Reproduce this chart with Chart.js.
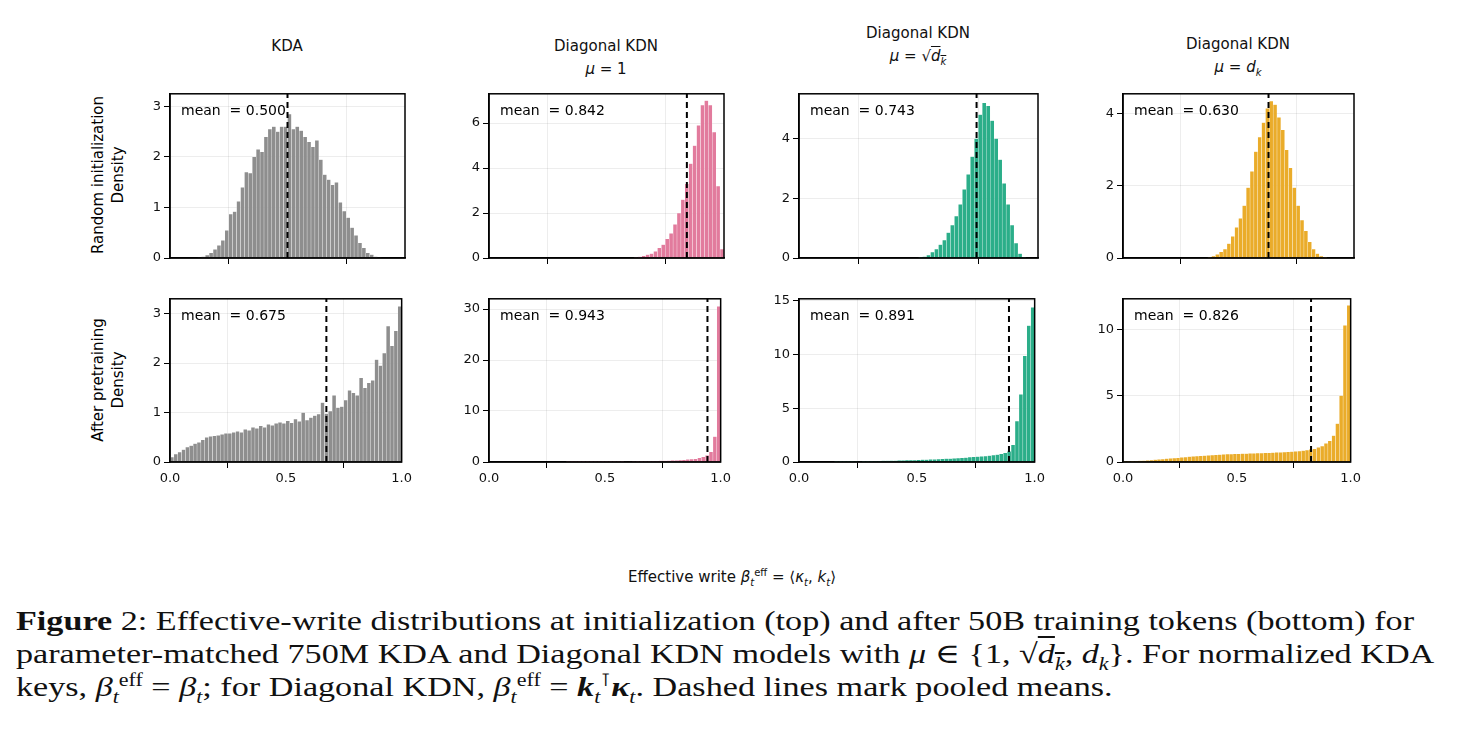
<!DOCTYPE html>
<html>
<head>
<meta charset="utf-8">
<script src="https://cdn.jsdelivr.net/npm/chart.js@4/dist/chart.umd.min.js"></script>
<style>
	body { margin: 0; width: 1464px; height: 750px; background: #fff; position: relative; font-family: "DejaVu Sans", sans-serif; overflow: hidden; }
	.c { position: absolute; }
	.t { position: absolute; text-align: center; font-size: 15px; color: #111; line-height: 23px; transform: translateX(-50%); white-space: nowrap; }
	.r { position: absolute; font-size: 15px; line-height: 20px; text-align: center; transform: translate(-50%, -50%) rotate(-90deg); white-space: nowrap; }
	.cap { position: absolute; left: 16px; top: 604px; font-family: "Liberation Serif", "DejaVu Serif", serif; font-size: 28px; line-height: 33px; color: #111; white-space: nowrap; transform: scaleX(1.22); transform-origin: 0 0; }
	.cap sub, .cap sup { line-height: 0; font-size: 18px; }
	i { font-style: italic; }
</style>
</head>
<body>
<div class="t" style="left:287px;top:35px">KDA</div>
<div class="t" style="left:606px;top:35px">Diagonal KDN<br><i>μ</i> = 1</div>
<div class="t" style="left:918px;top:22px">Diagonal KDN<br><i>μ</i> = √<span style="text-decoration:overline"><i>d<sub style="font-size:10px">k</sub></i></span></div>
<div class="t" style="left:1238px;top:33px">Diagonal KDN<br><i>μ</i> = <i>d<sub style="font-size:10px">k</sub></i></div>
<div class="r" style="left:108px;top:175px">Random initialization<br>Density</div>
<div class="r" style="left:108px;top:380px">After pretraining<br>Density</div>
<div class="t" style="left:732px;top:561px">Effective write <i>β</i><sub style="font-size:10px"><i>t</i></sub><sup style="font-size:10px">eff</sup> = ⟨<i>κ<sub style="font-size:10px">t</sub></i>, <i>k<sub style="font-size:10px">t</sub></i>⟩</div>
<div class="cap"><b>Figure</b> 2: Effective-write distributions at initialization (top) and after 50B training tokens (bottom) for<br>parameter-matched 750M KDA and Diagonal KDN models with <i>μ</i> ∈ {1, √<span style="text-decoration:overline"><i>d<sub>k</sub></i></span>, <i>d<sub>k</sub></i>}. For normalized KDA<br>keys, <i>β</i><sub><i>t</i></sub><sup>eff</sup> = <i>β<sub>t</sub></i>; for Diagonal KDN, <i>β</i><sub><i>t</i></sub><sup>eff</sup> = <b><i>k</i></b><sub><i>t</i></sub><sup>⊺</sup><b><i>κ</i></b><sub><i>t</i></sub>. Dashed lines mark pooled means.</div>

<script>
const binCount = 60;
const binCenters = Array.from({ length: binCount }, (_, i) => (i + 0.5) / binCount);
const xTicks = [0, 0.5, 1];

// density per bin (60 bins over [0, 1])
const kdaInit = [0,0,0,0,0,0,0,0.01,0.03,0.06,0.1,0.17,0.25,0.35,0.55,0.87,0.92,1.12,1.4,1.7,1.68,2.0,2.15,2.1,2.4,2.55,2.6,2.5,2.6,2.6,2.85,2.55,2.6,2.52,2.4,2.3,2.2,2.33,1.95,1.65,1.55,1.45,1.5,1.1,0.93,0.8,0.6,0.45,0.3,0.2,0.1,0.07,0.03,0.01,0,0,0,0,0,0];
const kdaTrained = [0.1,0.16,0.2,0.25,0.3,0.33,0.37,0.4,0.45,0.5,0.52,0.53,0.54,0.56,0.58,0.58,0.6,0.62,0.6,0.66,0.64,0.7,0.68,0.73,0.7,0.76,0.74,0.78,0.8,0.78,0.83,0.79,0.87,0.82,1.0,0.85,0.9,0.94,0.97,1.2,0.98,1.03,1.35,1.1,1.12,1.25,1.45,1.4,1.35,1.7,1.5,1.6,1.65,2.07,1.95,2.2,2.75,2.35,2.65,3.15];
const mu1Init = [0,0,0,0,0,0,0,0,0,0,0,0,0,0,0,0,0,0,0,0,0,0,0,0,0,0,0,0,0,0,0,0,0,0,0,0,0,0.02,0.05,0.1,0.15,0.2,0.3,0.45,0.6,0.85,1.1,1.5,2.0,2.6,3.3,4.2,5.0,5.9,6.8,7.0,6.8,5.6,3.2,0.4];
const mu1Trained = [0,0,0,0,0,0,0,0,0,0,0,0,0,0,0,0,0,0,0,0,0.01,0.01,0.01,0.02,0.02,0.02,0.03,0.03,0.04,0.04,0.05,0.05,0.06,0.07,0.08,0.09,0.1,0.11,0.12,0.13,0.14,0.16,0.18,0.2,0.22,0.25,0.28,0.31,0.35,0.4,0.45,0.5,0.55,0.6,0.8,1.0,1.3,2.0,5.0,30.5];
const sqrtInit = [0,0,0,0,0,0,0,0,0,0,0,0,0,0,0,0,0,0,0,0,0,0,0,0,0,0,0,0,0,0,0.02,0.05,0.1,0.2,0.3,0.45,0.6,0.85,1.1,1.4,1.8,2.3,2.8,3.4,4.0,4.8,5.2,5.1,4.6,4.0,3.3,2.5,1.8,1.1,0.5,0.15,0.02,0,0,0];
const sqrtTrained = [0,0,0,0,0,0,0,0,0,0.01,0.01,0.02,0.02,0.03,0.04,0.05,0.06,0.07,0.08,0.09,0.1,0.11,0.12,0.13,0.14,0.15,0.16,0.17,0.18,0.19,0.2,0.22,0.23,0.25,0.26,0.28,0.3,0.31,0.33,0.35,0.37,0.39,0.42,0.45,0.48,0.5,0.53,0.56,0.6,0.65,0.7,0.75,0.85,1.0,1.6,3.8,6.3,9.9,12.7,14.4];
const dkInit = [0,0,0,0,0,0,0,0,0,0,0,0,0,0,0,0,0,0,0,0,0,0,0.02,0.05,0.1,0.17,0.25,0.4,0.6,0.85,1.1,1.45,1.95,2.4,2.95,3.35,3.75,4.15,4.35,4.25,3.9,3.55,3.0,2.5,1.95,1.45,1.05,0.75,0.45,0.25,0.12,0.05,0.02,0,0,0,0,0,0,0];
const dkTrained = [0.02,0.03,0.05,0.07,0.09,0.11,0.13,0.15,0.18,0.2,0.22,0.25,0.27,0.3,0.32,0.35,0.37,0.4,0.42,0.44,0.46,0.48,0.5,0.52,0.54,0.56,0.57,0.59,0.6,0.61,0.62,0.63,0.64,0.65,0.66,0.67,0.68,0.69,0.7,0.71,0.72,0.73,0.74,0.76,0.78,0.8,0.83,0.86,0.9,0.95,1.0,1.1,1.2,1.4,1.6,2.0,2.9,5.0,10.3,11.8];

const means = [[0.500, 0.842, 0.743, 0.630], [0.675, 0.943, 0.891, 0.826]];
const yMax = [[3.25, 7.3, 5.5, 4.55], [3.3, 32, 15.2, 12.3]];
const yStep = [[1, 2, 2, 2], [1, 10, 5, 5]];
const series = [[kdaInit, mu1Init, sqrtInit, dkInit], [kdaTrained, mu1Trained, sqrtTrained, dkTrained]];
const colors = ["#8e8e8e", "#e27b9d", "#2bae89", "#eaac2a"];

const colLeft = [170, 489, 799, 1123];
const colWidth = [235, 235, 239, 231];
const rowTop = [91, 296];
const rowHeight = [167, 166];

const meanPlugin = {
	id: "meanLine",
	afterDatasetsDraw(chart, args, opts) {
		const { ctx, chartArea: a, scales } = chart;
		const x = scales.x.getPixelForValue(opts.value);
		ctx.save();
		ctx.strokeStyle = "#000";
		ctx.lineWidth = 2;
		ctx.setLineDash([6, 4]);
		ctx.beginPath();
		ctx.moveTo(x, a.bottom);
		ctx.lineTo(x, a.top);
		ctx.stroke();
		ctx.setLineDash([]);
		ctx.lineWidth = 1.5;
		ctx.strokeRect(a.left, a.top, a.right - a.left, a.bottom - a.top);
		ctx.fillStyle = "#000";
		ctx.font = "14px 'DejaVu Sans'";
		ctx.textBaseline = "middle";
		ctx.fillText("mean  = " + opts.value.toFixed(3), a.left + 11, a.top + 18);
		ctx.restore();
	},
};

for (let r = 0; r < 2; r++) {
	for (let c = 0; c < 4; c++) {
		const canvas = document.createElement("canvas");
		const padL = 45, padT = 8, padR = 10, padB = r === 1 ? 32 : 12;
		const w = colWidth[c] + padL + padR;
		const h = rowHeight[r] + padT + padB;
		canvas.className = "c";
		canvas.width = w;
		canvas.height = h;
		canvas.style.left = colLeft[c] - padL + "px";
		canvas.style.top = rowTop[r] - padT + "px";
		canvas.style.width = w + "px";
		canvas.style.height = h + "px";
		document.body.appendChild(canvas);
		new Chart(canvas, {
			type: "bar",
			data: {
				datasets: [
					{
						data: binCenters.map((x, i) => ({ x, y: series[r][c][i] })),
						backgroundColor: colors[c],
						borderColor: "rgba(255,255,255,0.35)",
						borderWidth: 0.5,
						barPercentage: 1,
						categoryPercentage: 1,
					},
				],
			},
			options: {
				responsive: false,
				animation: false,
				devicePixelRatio: 1,
				layout: { padding: { top: padT, right: padR } },
				plugins: { legend: { display: false }, tooltip: { enabled: false }, meanLine: { value: means[r][c] } },
				scales: {
					x: {
						type: "linear",
						min: 0,
						max: 1,
						offset: false,
						afterBuildTicks: (s) => { s.ticks = xTicks.map((v) => ({ value: v })); },
						afterFit: (s) => { s.height = padB; },
						grid: { color: "rgba(0,0,0,0.07)", tickColor: "#000", tickLength: 6 },
						border: { color: "#000", width: 1.5 },
						ticks: {
							color: "#111",
							font: { size: 13, family: "'DejaVu Sans'" },
							maxRotation: 0,
							callback: (v) => (r === 1 ? v.toFixed(1) : ""),
						},
					},
					y: {
						min: 0,
						max: yMax[r][c],
						afterFit: (s) => { s.width = padL; },
						grid: { color: "rgba(0,0,0,0.07)", tickColor: "#000", tickLength: 6 },
						border: { color: "#000", width: 1.5 },
						ticks: { stepSize: yStep[r][c], includeBounds: false, color: "#111", font: { size: 13, family: "'DejaVu Sans'" } },
					},
				},
			},
			plugins: [meanPlugin],
		});
	}
}
</script>
</body>
</html>
